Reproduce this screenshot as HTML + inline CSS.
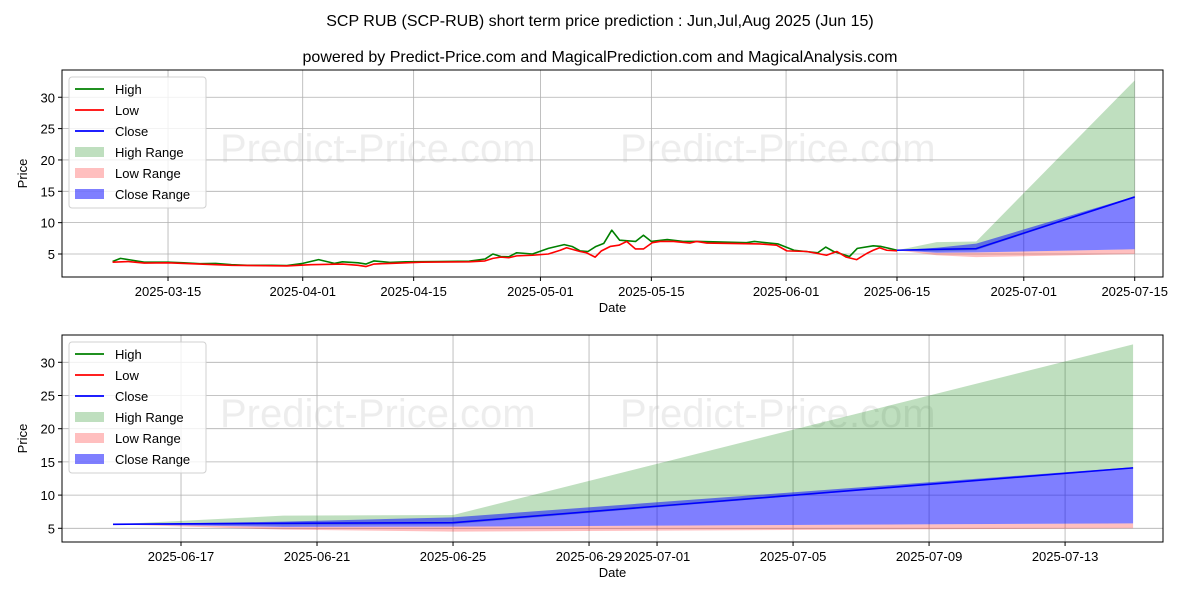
<!DOCTYPE html>
<html><head><meta charset="utf-8"><style>
body{margin:0;background:#fff}
svg{font-family:"Liberation Sans","DejaVu Sans",sans-serif}
</style></head><body>
<svg id="chart" width="1200" height="600" xmlns="http://www.w3.org/2000/svg">
<text x="600" y="26" text-anchor="middle" font-size="16">SCP RUB (SCP-RUB) short term price prediction : Jun,Jul,Aug 2025 (Jun 15)</text>
<text x="600" y="62" text-anchor="middle" font-size="16">powered by Predict-Price.com and MagicalPrediction.com and MagicalAnalysis.com</text>
</svg>
<script>
// Historical (day offsets from 2025-03-15)
const highDays=[-7,-6,-5,-4,-3,-1,0,2,4,6,8,10,13,15,17,19,21,22,24,25,26,28,30,34,38,40,41,42,43,44,46,48,50,51,52,53,54,55,56,57,59,60,61,63,65,67,70,73,74,77,79,82,83,84,86,87,89,90,92];
const highVals=[3.8,4.3,4.1,3.9,3.7,3.7,3.7,3.6,3.45,3.5,3.3,3.2,3.2,3.15,3.5,4.1,3.5,3.75,3.6,3.4,3.9,3.65,3.75,3.8,3.85,4.2,5.0,4.6,4.55,5.2,5.0,5.9,6.5,6.2,5.5,5.4,6.2,6.7,8.8,7.2,7.0,8.0,7.0,7.3,7.0,7.0,6.9,6.8,7.0,6.6,5.6,5.2,6.1,5.4,4.6,5.9,6.3,6.2,5.6];
const lowDays=[-7,-5,-3,0,4,8,15,18,22,24,25,26,28,32,38,40,41,42,43,44,46,48,49.5,50.3,52,52.8,53.9,54.7,55.8,56.9,57.9,59,60,61.1,62.1,63.8,65.9,66.7,68,74.7,76.8,78.1,80.6,81.9,83.1,84.4,85.6,86.9,88.2,89,89.8,90.7,92];
const lowVals=[3.7,3.8,3.55,3.6,3.4,3.2,3.1,3.3,3.4,3.2,3.0,3.4,3.5,3.7,3.75,3.9,4.3,4.5,4.4,4.7,4.8,5.0,5.6,6.0,5.4,5.2,4.5,5.5,6.2,6.4,7.0,5.8,5.8,6.8,7.0,7.0,6.75,7.0,6.75,6.6,6.4,5.5,5.4,5.1,4.8,5.4,4.5,4.1,5.1,5.6,6.0,5.6,5.5];
// Prediction nodes (days from 2025-03-15): 06-15, 06-20, 06-25, 07-15
const predDays=[92,97,102,122];
const highUpper=[5.6,6.9,7.0,32.7];
const highLower=[5.6,5.4,5.6,14.1];
const closeUpper=[5.6,6.0,6.65,14.2];
const closeLower=[5.6,5.2,5.25,5.75];
const lowUpper=[5.6,5.2,5.25,5.75];
const lowLower=[5.6,4.8,4.5,5.0];
const closeVals=[5.6,5.75,5.85,14.1];
const yTicks=[5,10,15,20,25,30];
const topTickDays=[0,17,31,47,61,78,92,108,122];
const topTickLabels=["2025-03-15","2025-04-01","2025-04-15","2025-05-01","2025-05-15","2025-06-01","2025-06-15","2025-07-01","2025-07-15"];
const botTickDays=[94,98,102,106,108,112,116,120];
const botTickLabels=["2025-06-17","2025-06-21","2025-06-25","2025-06-29","2025-07-01","2025-07-05","2025-07-09","2025-07-13"];

const NS="http://www.w3.org/2000/svg";
const svg=document.getElementById('chart');
function mk(tag,attrs,parent){const e=document.createElementNS(NS,tag);for(const k in attrs)e.setAttribute(k,attrs[k]);(parent||svg).appendChild(e);return e;}

function panel(name,L,R,T,B,d0,d1,yAt5,pxPerUnit,tickDays,tickLabels,showHist){
  const g=mk('g',{});
  
  
  const X=d=>L+(d-d0)/(d1-d0)*(R-L);
  const Y=v=>yAt5-(v-5)*pxPerUnit;
  [[220,T+92],[620,T+92],[220,T+240],[620,T+240]].forEach(p=>{
    if(p[1]>B+30)return;
    const w=mk('text',{x:p[0],y:p[1],'font-size':40,fill:'#000','fill-opacity':0.07},g);
    
    
    w.textContent='Predict-Price.com';
  });
  yTicks.forEach(v=>{
    const l=mk('line',{x1:L,x2:R,y1:Y(v),y2:Y(v),stroke:'#b0b0b0','stroke-width':0.8},g);
    
    
    mk('line',{x1:L-4,x2:L,y1:Y(v),y2:Y(v),stroke:'#000'},g);
    const t=mk('text',{x:L-7,y:Y(v)+5,'text-anchor':'end','font-size':13},g);
    
    
    t.textContent=v;
  });
  tickDays.forEach((d,i)=>{
    const l=mk('line',{x1:X(d),x2:X(d),y1:T,y2:B,stroke:'#b0b0b0','stroke-width':0.8},g);
    
    
    mk('line',{x1:X(d),x2:X(d),y1:B,y2:B+4,stroke:'#000'},g);
    const t=mk('text',{x:X(d),y:B+19,'text-anchor':'middle','font-size':13},g);
    
    
    t.textContent=tickLabels[i];
  });
  function band(up,lo,fill,op,nm){
    let p='';
    predDays.forEach((d,i)=>{p+=(i?'L':'M')+X(d)+','+Y(up[i]);});
    for(let i=predDays.length-1;i>=0;i--)p+='L'+X(predDays[i])+','+Y(lo[i]);
    const e=mk('path',{d:p+'Z',fill:fill,'fill-opacity':op},g);
    
    
  }
  band(highUpper,highLower,'#008000',0.25,'high-range-band');
  band(lowUpper,lowLower,'#ff0000',0.25,'low-range-band');
  band(closeUpper,closeLower,'#0000ff',0.5,'close-range-band');
  function line(days,vals,col,nm){
    const pts=days.map((d,i)=>X(d)+','+Y(vals[i])).join(' ');
    const e=mk('polyline',{points:pts,fill:'none',stroke:col,'stroke-width':1.6,'stroke-linejoin':'round'},g);
    
    
  }
  if(showHist){line(highDays,highVals,'#008000','high-line');line(lowDays,lowVals,'#ff0000','low-line');}
  line(predDays,closeVals,'#0000ff','close-line');
  const fr=mk('rect',{x:L,y:T,width:R-L,height:B-T,fill:'none',stroke:'#000','stroke-width':1},g);
  
  
  const xl=mk('text',{x:(L+R)/2,y:B+35,'text-anchor':'middle','font-size':13},g);
  
  
  xl.textContent='Date';
  const yl=mk('text',{x:0,y:0,'text-anchor':'middle','font-size':13,transform:`translate(27,${(T+B)/2}) rotate(-90)`},g);
  
  
  yl.textContent='Price';
  const lg=mk('g',{},g);
  
  
  mk('rect',{x:L+7,y:T+7,width:137,height:131,rx:3,fill:'#fff','fill-opacity':0.8,stroke:'#d0d0d0'},lg);
  const items=[['High','#008000','l'],['Low','#ff0000','l'],['Close','#0000ff','l'],['High Range','#008000',0.25],['Low Range','#ff0000',0.25],['Close Range','#0000ff',0.5]];
  items.forEach((it,i)=>{
    const yy=T+19+i*21;
    const ent=mk('g',{},lg);
    
    
    if(it[2]==='l')mk('line',{x1:L+13,x2:L+42,y1:yy,y2:yy,stroke:it[1],'stroke-width':1.8},ent);
    else mk('rect',{x:L+13,y:yy-5,width:29,height:10,fill:it[1],'fill-opacity':it[2]},ent);
    const t=mk('text',{x:L+53,y:yy+5,'font-size':13},ent);
    t.textContent=it[0];
  });
}
panel('top-chart',62,1163,70,277,-13.38,125.57,254,6.27,topTickDays,topTickLabels,true);
panel('bottom-chart',62,1163,335,542,90.5,122.88,528.3,6.64,botTickDays,botTickLabels,false);
</script>
</body></html>
